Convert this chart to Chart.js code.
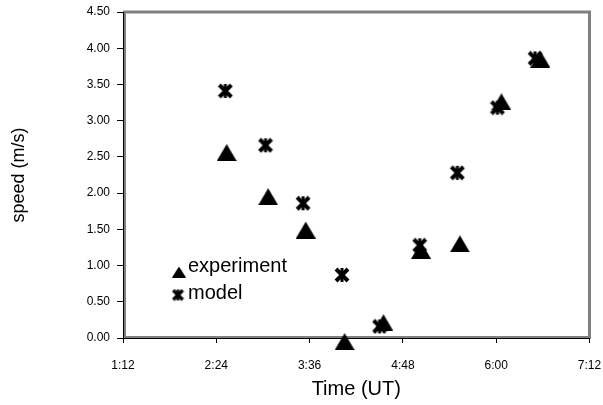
<!DOCTYPE html>
<html>
<head>
<meta charset="utf-8">
<script src="https://cdn.jsdelivr.net/npm/chart.js@4.4.0/dist/chart.umd.min.js"></script>
<style>
  body { margin: 0; background: #fff; }
  #wrap { width: 603px; height: 405px; }
</style>
</head>
<body>
<div id="wrap"><canvas id="chartSpeed"></canvas></div>
<script>
// data
const expTime = ['2:32', '3:04', '3:33', '4:03', '4:33', '5:02', '5:32', '6:04', '6:34'];
const expSpeed = [2.56, 1.95, 1.49, -0.05, 0.21, 1.21, 1.30, 3.26, 3.85];
const modelTime = ['2:31', '3:02', '3:31', '4:01', '4:30', '5:01', '5:30', '6:01', '6:30'];
const modelSpeed = [3.41, 2.66, 1.86, 0.87, 0.16, 1.28, 2.28, 3.18, 3.86];
const xTicks = ['1:12', '2:24', '3:36', '4:48', '6:00', '7:12'];

const FONT = "'Liberation Sans', Arial, sans-serif";

function toMin(s) {
  let p = s.split(':');
  return parseInt(p[0]) * 60 + parseInt(p[1]);
}
function fmtMin(v) {
  let h = Math.floor(v / 60);
  let m = Math.round(v - h * 60);
  return h + ':' + (m < 10 ? '0' : '') + m;
}

// marker pictures (centred on their box like Excel markers)
function triangleMarker(w, h) {
  const c = document.createElement('canvas');
  c.width = w; c.height = h;
  const g = c.getContext('2d');
  g.fillStyle = '#000';
  g.beginPath();
  g.moveTo(w / 2, 0);
  g.lineTo(w, h);
  g.lineTo(0, h);
  g.closePath();
  g.fill();
  return c;
}
function starMarker(s, lw) {
  const c = document.createElement('canvas');
  c.width = s; c.height = s;
  const g = c.getContext('2d');
  const p = lw / 2;
  g.strokeStyle = '#000';
  g.lineWidth = lw;
  g.beginPath();
  g.moveTo(p, p); g.lineTo(s - p, s - p);
  g.moveTo(s - p, p); g.lineTo(p, s - p);
  g.stroke();
  g.lineWidth = lw - 1;
  g.beginPath();
  g.moveTo(s / 2, 1); g.lineTo(s / 2, s - 1);
  g.stroke();
  return c;
}

const triBig = triangleMarker(20, 17);
const starBig = starMarker(16, 4);
const triSmall = triangleMarker(14, 11);
const starSmall = starMarker(13, 3.5);

const plotFrame = {
  id: 'plotFrame',
  beforeDraw(chart) {
    const a = chart.chartArea;
    const ctx = chart.ctx;
    ctx.save();
    ctx.strokeStyle = '#808080';
    ctx.lineWidth = 3;
    ctx.strokeRect(a.left + 1.5, a.top, a.right - a.left - 1.5, a.bottom - 0.5 - a.top);
    ctx.restore();
  }
};

const innerLegend = {
  id: 'innerLegend',
  afterDraw(chart) {
    const ctx = chart.ctx;
    const items = [
      { img: triSmall, mx: 179, my: 272, ty: 266, text: chart.data.datasets[0].label },
      { img: starSmall, mx: 178, my: 295, ty: 293, text: chart.data.datasets[1].label }
    ];
    ctx.save();
    ctx.font = '20px ' + FONT;
    ctx.fillStyle = '#000';
    ctx.textBaseline = 'middle';
    items.forEach(it => {
      ctx.drawImage(it.img, it.mx - it.img.width / 2, it.my - it.img.height / 2);
      ctx.fillText(it.text, 188, it.ty);
    });
    ctx.restore();
  }
};

const data = {
  datasets: [{
    label: 'experiment',
    data: expTime.map((t, i) => ({ x: toMin(t), y: expSpeed[i] })),
    pointStyle: triBig,
    clip: false
  }, {
    label: 'model',
    data: modelTime.map((t, i) => ({ x: toMin(t), y: modelSpeed[i] })),
    pointStyle: starBig,
    clip: false
  }]
};

const config = {
  type: 'scatter',
  data: data,
  options: {
    responsive: true,
    maintainAspectRatio: false,
    animation: false,
    layout: { padding: { top: 12, right: 13.5, bottom: 0, left: 0 } },
    plugins: {
      legend: { display: false },
      tooltip: { enabled: false }
    },
    scales: {
      x: {
        type: 'linear',
        min: toMin(xTicks[0]),
        max: toMin(xTicks[xTicks.length - 1]),
        afterBuildTicks: (scale) => {
          scale.ticks = xTicks.map(t => ({ value: toMin(t) }));
        },
        afterFit: (scale) => {
          scale.height = 67;
          scale.paddingLeft = 0;
          scale.paddingRight = 0;
        },
        ticks: {
          callback: v => fmtMin(v),
          color: '#000',
          font: { family: FONT, size: 12 },
          padding: 15,
          maxRotation: 0
        },
        grid: { drawOnChartArea: false, tickLength: 5, color: '#000' },
        border: { color: '#000', width: 1 },
        title: {
          display: true,
          text: 'Time (UT)',
          color: '#000',
          font: { family: FONT, size: 20 },
          padding: { top: 0, bottom: 4 }
        }
      },
      y: {
        min: 0,
        max: 4.5,
        afterFit: (scale) => {
          scale.width = 123;
          scale.paddingTop = 0;
          scale.paddingBottom = 0;
        },
        ticks: {
          stepSize: 0.5,
          callback: v => v.toFixed(2),
          color: '#000',
          font: { family: FONT, size: 12 },
          padding: 7
        },
        grid: { drawOnChartArea: false, tickLength: 6, color: '#000' },
        border: { color: '#000', width: 1 },
        title: {
          display: true,
          text: 'speed (m/s)',
          color: '#000',
          font: { family: FONT, size: 18 },
          padding: { top: 8, bottom: 0 }
        }
      }
    }
  },
  plugins: [plotFrame, innerLegend]
};

const chartSpeed = new Chart(document.getElementById('chartSpeed'), config);
</script>
</body>
</html>
